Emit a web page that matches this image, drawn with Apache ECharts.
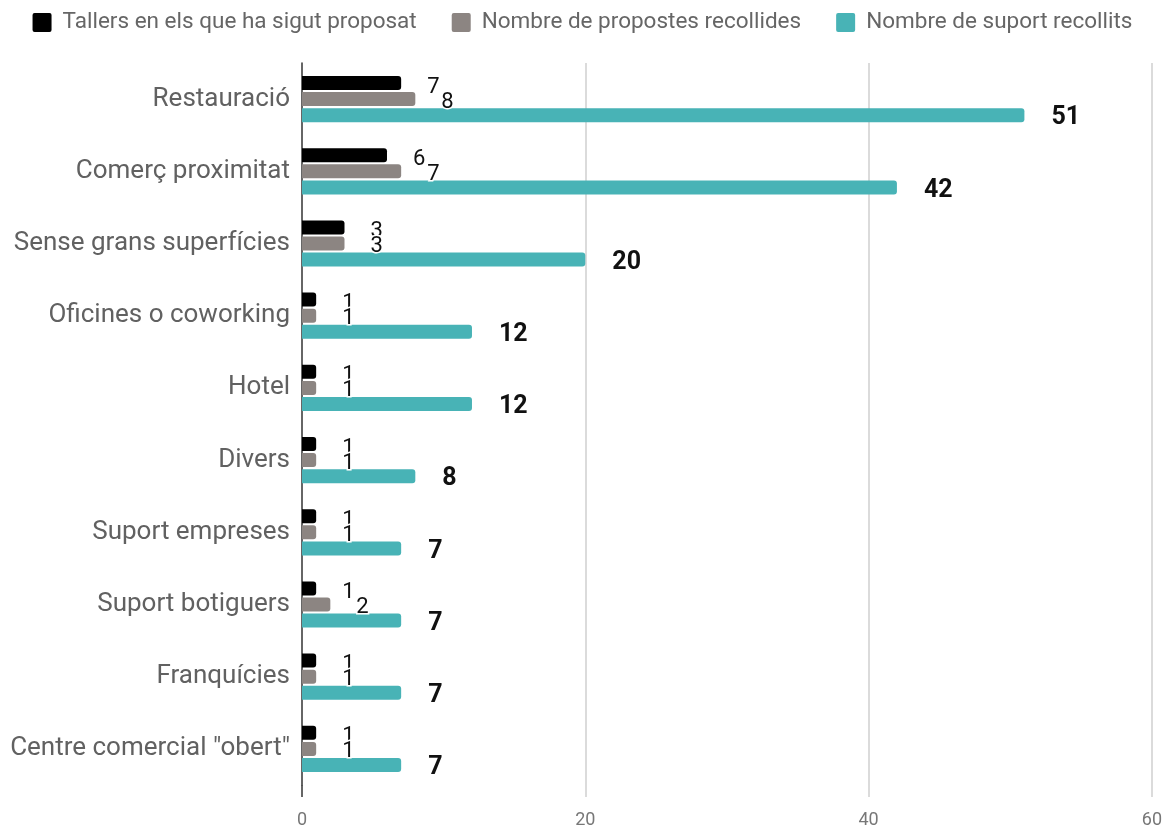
<!DOCTYPE html>
<html>
<head>
<meta charset="utf-8">
<script src="https://cdn.jsdelivr.net/npm/echarts@6/dist/echarts.min.js"></script>
<style>html,body{margin:0;padding:0;background:#fff}#c{width:1165px;height:831px}</style>
</head>
<body>
<div id="c"></div>
<script>
const categories = ['Restauració','Comerç proximitat','Sense grans superfícies','Oficines o coworking','Hotel','Divers','Suport empreses','Suport botiguers','Franquícies','Centre comercial "obert"'];
const seriesNames = ['Tallers en els que ha sigut proposat','Nombre de propostes recollides','Nombre de suport recollits'];
const tallers = [7,6,3,1,1,1,1,1,1,1];
const propostes = [8,7,3,1,1,1,1,2,1,1];
const suport = [51,42,20,12,12,8,7,7,7,7];
const xTicks = [0,20,40,60];

const colors = ['#000000','#8c8582','#48b3b6'];
const chart = echarts.init(document.getElementById('c'));
const font = 'Roboto, "Noto Sans", sans-serif';
function smallLabel(dy){
  return {show:true, position:'right', distance:26, color:'#111', fontSize:22, fontFamily:font,
    textBorderColor:'#fff', textBorderWidth:3, offset:[0,dy]};
}
chart.setOption({
  animation:false,
  color: colors,
  legend:{
    top:6, left:'center', itemWidth:19, itemHeight:19, itemGap:35,
    icon:'path://M2,0 L17,0 Q19,0 19,2 L19,17 Q19,19 17,19 L2,19 Q0,19 0,17 L0,2 Q0,0 2,0 Z',
    textStyle:{fontSize:22.5, color:'#666', fontFamily:font, padding:[0,0,0,6]},
    data: seriesNames
  },
  grid:{left:302, right:13, top:63, bottom:46, containLabel:false},
  xAxis:[{
    type:'value', min:xTicks[0], max:xTicks[xTicks.length-1], interval:20,
    axisLine:{show:false},
    axisTick:{show:true, length:12, customValues:xTicks.slice(1), lineStyle:{color:'#cfcfcf', width:1.5}},
    splitLine:{show:true, lineStyle:{color:'#cfcfcf', width:1.5}},
    axisLabel:{color:'#777', fontSize:18, fontFamily:font, margin:26,
      formatter: v => xTicks.includes(v) ? String(v) : ''}
  },{
    type:'value', position:'bottom', min:xTicks[0], max:xTicks[xTicks.length-1],
    axisLine:{show:false}, splitLine:{show:false}, axisLabel:{show:false},
    axisTick:{show:true, length:12, customValues:[0], lineStyle:{color:'#333', width:1.5}}
  }],
  yAxis:{
    type:'category', inverse:true, data:categories,
    axisLine:{show:true, lineStyle:{color:'#333', width:1.5}},
    axisTick:{show:false},
    axisLabel:{color:'#616161', fontSize:26, fontFamily:font, margin:12}
  },
  series:[
    {name:seriesNames[0], type:'bar', data:tallers, barWidth:14, barGap:'15%', barCategoryGap:'37%',
      itemStyle:{borderRadius:[0,3,3,0]}, label:smallLabel(4), z:3},
    {name:seriesNames[1], type:'bar', data:propostes, barWidth:14, barGap:'15%',
      itemStyle:{borderRadius:[0,3,3,0]}, label:smallLabel(3), z:4},
    {name:seriesNames[2], type:'bar', data:suport, barWidth:14, barGap:'15%',
      itemStyle:{borderRadius:[0,3,3,0]},
      label:{show:true, position:'right', distance:27, color:'#111', fontSize:25, fontWeight:'bold', fontFamily:font, offset:[0,3]}, z:2}
  ]
});
</script>
</body>
</html>
